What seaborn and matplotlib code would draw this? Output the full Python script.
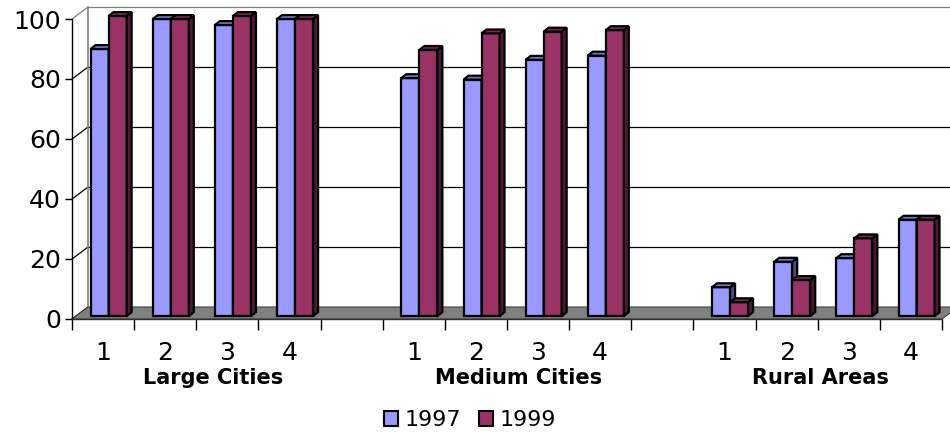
import matplotlib
matplotlib.use("Agg")
import matplotlib.pyplot as plt
import matplotlib.colors as mcolors
from matplotlib.patches import Polygon
from matplotlib.lines import Line2D
import seaborn as sns
import pandas as pd

# ---- data ----
groups = ["Large Cities", "Medium Cities", "Rural Areas"]
sub_labels = ["1", "2", "3", "4"]
years = ["1997", "1999"]
vals_1997 = [89, 99, 97, 99, 79.3, 78.8, 85.4, 86.8, 9.6, 18.1, 19.3, 32.1]
vals_1999 = [100, 99, 100, 99, 88.7, 94.2, 94.8, 95.3, 4.6, 12, 25.9, 32.1]
y_ticks = [0, 20, 40, 60, 80, 100]

colors = {"1997": "#9999FF", "1999": "#993366"}

# ---- build table ----
rows = []
order = []
tick_text = []
k = 0
for gi, g in enumerate(groups):
    for s in sub_labels:
        key = f"{g} {s}"
        order.append(key)
        tick_text.append(s)
        rows.append({"slot": key, "year": "1997", "value": vals_1997[k]})
        rows.append({"slot": key, "year": "1999", "value": vals_1999[k]})
        k += 1
    if gi < len(groups) - 1:
        order.append(f"gap{gi}")
        tick_text.append("")
df = pd.DataFrame(rows)

sns.set_style("white")
plt.rcParams["font.family"] = ["DejaVu Sans"]
plt.rcParams["text.color"] = "black"
plt.rcParams["xtick.color"] = "black"
plt.rcParams["ytick.color"] = "black"
plt.rcParams["xtick.labelcolor"] = "black"
plt.rcParams["ytick.labelcolor"] = "black"

fig = plt.figure(figsize=(9.5, 4.33), dpi=100)
ax = fig.add_axes([72 / 950, (433 - 319) / 433, 870 / 950, 315 / 433])

EW = 1.6
sns.barplot(data=df, x="slot", y="value", hue="year", order=order,
            hue_order=years, palette=colors, width=0.58, saturation=1,
            edgecolor="black", linewidth=EW, errorbar=None, ax=ax, legend=True)

n = len(order)
ax.set_xlim(-0.5, n - 0.5)
ax.set_ylim(0, 105)

# depth of the "3D" box and of the bars (data units)
DX, DY = 16 / 62, 4.0
BX, BY = 0.09, 1.0
bdx, bdy = 0.08, 1.3

bars = sorted([p for p in ax.patches if p.get_height() > 0], key=lambda p: p.get_x())

def shade(c, f):
    r, g, b = mcolors.to_rgb(c)
    return (r * f, g * f, b * f)

for i, p in enumerate(bars):
    x0 = p.get_x() + BX
    w = p.get_width()
    h = p.get_height()
    y0 = BY
    p.set_x(x0)
    p.set_y(y0)
    z = 3 + i * 0.01
    p.set_zorder(z)
    fc = p.get_facecolor()
    top = Polygon([(x0, y0 + h), (x0 + w, y0 + h), (x0 + w + bdx, y0 + h + bdy),
                   (x0 + bdx, y0 + h + bdy)], closed=True, facecolor=shade(fc, 0.78),
                  edgecolor="black", linewidth=EW, zorder=z, clip_on=False)
    side = Polygon([(x0 + w, y0), (x0 + w + bdx, y0 + bdy), (x0 + w + bdx, y0 + h + bdy),
                    (x0 + w, y0 + h)], closed=True, facecolor=shade(fc, 0.5),
                   edgecolor="black", linewidth=EW, zorder=z, clip_on=False)
    ax.add_patch(side)
    ax.add_patch(top)

# floor
x_l, x_r = -0.5, n - 0.5
floor = Polygon([(x_l, 0), (x_r, 0), (x_r + DX, DY), (x_l + DX, DY)], closed=True,
                facecolor="#808080", edgecolor="#404040", linewidth=0.8, zorder=1,
                clip_on=False)
ax.add_patch(floor)

# back wall gridlines and left wall
for v in y_ticks[1:]:
    col = "#808080" if v == 100 else "black"
    ax.add_line(Line2D([x_l + DX, x_r + DX], [v + DY, v + DY], color=col,
                       linewidth=0.9, zorder=0.5, clip_on=False))
for v in y_ticks:
    col = "#808080" if v == 100 else "black"
    ax.add_line(Line2D([x_l, x_l + DX], [v, v + DY], color=col, linewidth=0.9,
                       zorder=0.5, clip_on=False))
ax.add_line(Line2D([x_l + DX, x_l + DX], [DY, 100 + DY], color="#808080",
                   linewidth=1.2, zorder=0.5, clip_on=False))
# front axes
ax.add_line(Line2D([x_l, x_l], [0, 100], color="black", linewidth=1.0, zorder=2,
                   clip_on=False))
ax.add_line(Line2D([x_l, x_r], [0, 0], color="#303030", linewidth=1.0, zorder=2,
                   clip_on=False))

for sp in ax.spines.values():
    sp.set_visible(False)
ax.grid(False)

ax.set_yticks(y_ticks)
ax.set_yticklabels([str(v) for v in y_ticks], fontsize=18, color="black")
ax.tick_params(axis="y", length=5, width=1, color="black", pad=3, left=True)

ax.set_xticks(range(n))
ax.set_xticklabels(tick_text, fontsize=18, color="black")
ax.set_xticks([i - 0.5 for i in range(n + 1)], minor=True)
ax.tick_params(axis="x", which="major", length=0, pad=16)
ax.tick_params(axis="x", which="minor", length=8, width=1, color="black", bottom=True)
ax.set_xlabel("")
ax.set_ylabel("")

# group labels (layout positions in slot units)
label_x = [1.77, 6.68, 11.55]
for g, cx in zip(groups, label_x):
    ax.text(cx, -19.5, g, ha="center", va="center", fontsize=15, fontweight="bold",
            color="black", clip_on=False)

# legend
handles, labels = ax.get_legend_handles_labels()
if ax.get_legend() is not None:
    ax.get_legend().remove()
for h in handles:
    h.set_edgecolor("black")
    h.set_linewidth(1.5)
fig.legend(handles, labels, loc="center", bbox_to_anchor=(470 / 950, 1 - 420 / 433),
           ncol=2, frameon=False, fontsize=16, handlelength=0.65, handleheight=0.65,
           handletextpad=0.3, columnspacing=0.8, borderpad=0, labelcolor="black")

fig.savefig("out.png", dpi=100)
